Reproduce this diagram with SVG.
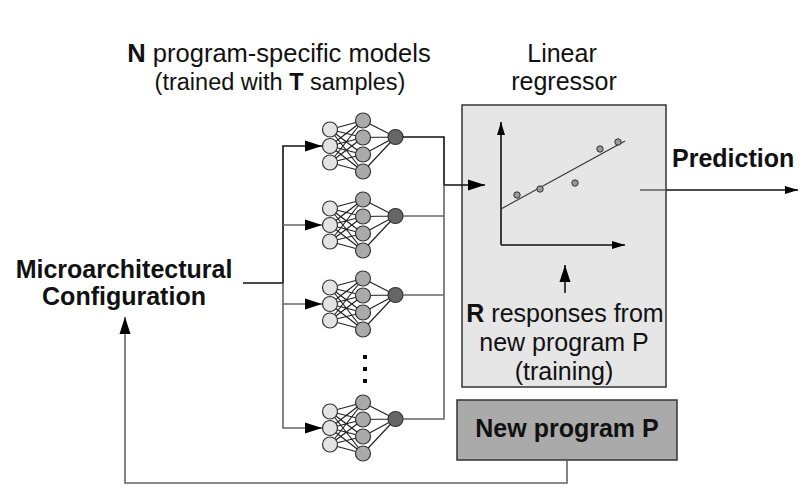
<svg xmlns="http://www.w3.org/2000/svg" xmlns:xlink="http://www.w3.org/1999/xlink" width="806" height="497" viewBox="0 0 806 497">
<style>
text{font-family:"Liberation Sans",Arial,sans-serif;font-size:25px;fill:#111}
.b{font-weight:bold}
.c{text-anchor:middle}
.ln{stroke:#222;stroke-width:1.2}
.in{fill:#e3e3e3;stroke:#333;stroke-width:1.2}
.hd{fill:#aaa;stroke:#333;stroke-width:1.2}
.ot{fill:#666;stroke:#333;stroke-width:1.2}
.k{fill:none;stroke:#111;stroke-width:1.6}
.g{fill:none;stroke:#666;stroke-width:1.6}
</style>
<defs>
<marker id="big" markerUnits="userSpaceOnUse" markerWidth="18" markerHeight="12" refX="17" refY="6" orient="auto"><path d="M0,0.5 L17,6 L0,11.5 z" fill="#000"/></marker>
<marker id="sm" markerUnits="userSpaceOnUse" markerWidth="14" markerHeight="9" refX="13" refY="4.5" orient="auto"><path d="M0,0.5 L13,4.5 L0,8.5 z" fill="#000"/></marker>
<g id="net">
<path class="ln" d="M0,-16.5L33,-25.5M0,-16.5L33,-8.5M0,-16.5L33,8.5M0,-16.5L33,25.5M0,0L33,-25.5M0,0L33,-8.5M0,0L33,8.5M0,0L33,25.5M0,16.5L33,-25.5M0,16.5L33,-8.5M0,16.5L33,8.5M0,16.5L33,25.5M33,-25.5L65.5,-9M33,-8.5L65.5,-9M33,8.5L65.5,-9M33,25.5L65.5,-9"/>
<circle class="in" cx="0" cy="-16.5" r="7.5"/>
<circle class="in" cx="0" cy="0" r="7.5"/>
<circle class="in" cx="0" cy="16.5" r="7.5"/>
<circle class="hd" cx="33" cy="-25.5" r="7.5"/>
<circle class="hd" cx="33" cy="-8.5" r="7.5"/>
<circle class="hd" cx="33" cy="8.5" r="7.5"/>
<circle class="hd" cx="33" cy="25.5" r="7.5"/>
<circle class="ot" cx="65.5" cy="-9" r="7.5"/>
</g>
</defs>
<rect width="806" height="497" fill="#fff"/>

<g id="title-models">
<text class="c" x="279" y="62" style="font-size:25.5px"><tspan class="b">N</tspan> program-specific models</text>
<text class="c" x="280" y="90" style="font-size:23.5px">(trained with <tspan class="b">T</tspan> samples)</text>
</g>
<g id="title-regressor">
<text class="c" x="562" y="62">Linear</text>
<text class="c" x="564" y="90">regressor</text>
</g>

<g id="config">
<text class="b c" x="124" y="278">Microarchitectural</text>
<text class="b c" x="124" y="305">Configuration</text>
</g>

<g id="model1" transform="translate(330,146)"><use href="#net"/></g>
<g id="model2" transform="translate(330,225)"><use href="#net"/></g>
<g id="model3" transform="translate(330,304)"><use href="#net"/></g>
<g id="model4" transform="translate(330,428)"><use href="#net"/></g>
<g id="ellipsis" fill="#000">
<rect x="363" y="355" width="4" height="4"/>
<rect x="363" y="367" width="4" height="4"/>
<rect x="363" y="379" width="4" height="4"/>
</g>

<g id="regressor">
<rect x="462" y="105" width="204" height="282" fill="#e6e6e6" stroke="#333" stroke-width="1.5"/>
<path class="k" d="M501,245V122" stroke-width="1.3" marker-end="url(#sm)"/>
<path class="k" d="M501,245H625" stroke-width="1.3" marker-end="url(#sm)"/>
<path d="M501,209L625,141" stroke="#333" stroke-width="1.1" fill="none"/>
<g fill="#999" stroke="#333" stroke-width="1">
<circle cx="517" cy="195" r="3.2"/>
<circle cx="540" cy="189" r="3.2"/>
<circle cx="575" cy="183" r="3.2"/>
<circle cx="600" cy="149" r="3.2"/>
<circle cx="618" cy="142" r="3.2"/>
</g>
<text class="c" x="565" y="322"><tspan class="b">R</tspan> responses from</text>
<text class="c" x="564" y="351">new program P</text>
<text class="c" x="564" y="380">(training)</text>
</g>

<g id="newprogram">
<rect x="457" y="400" width="220" height="60" fill="#aaa" stroke="#333" stroke-width="1.5"/>
<text class="b c" x="567" y="437">New program P</text>
</g>

<g id="prediction">
<text class="b" x="672" y="167">Prediction</text>
</g>

<g id="connectors">
<path class="k" d="M243,283H283V146H322" marker-end="url(#big)"/>
<path class="g" d="M283,225H322" marker-end="url(#big)"/>
<path class="g" d="M283,283V304H322" marker-end="url(#big)"/>
<path class="g" d="M283,304V428H322" marker-end="url(#big)"/>
<path class="k" d="M403,137H444V185H485" marker-end="url(#big)"/>
<path class="g" d="M403,216H444"/>
<path class="g" d="M403,295H444"/>
<path class="g" d="M403,419H444V185"/>
<path class="k" d="M565,293V265" stroke-width="1.3" marker-end="url(#big)"/>
<path class="g" d="M640,190H666"/>
<path class="k" d="M666,190H798" marker-end="url(#sm)"/>
<path class="g" d="M567,460V483H125V317" marker-end="url(#big)"/>
</g>
</svg>
